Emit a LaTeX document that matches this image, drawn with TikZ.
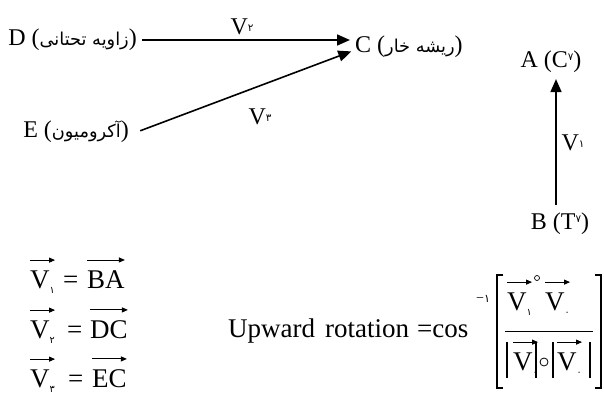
\documentclass[tikz,border=0pt]{standalone}
\usepackage{fontspec}
\setmainfont{Liberation Serif}
\newfontfamily\fa[Script=Arabic,Scale=0.74]{DejaVu Sans}
\newfontfamily\fd[Script=Arabic,Scale=0.8]{DejaVu Sans}
\TeXXeTstate=1
\usetikzlibrary{arrows.meta}
\newcommand\psub[1]{\raisebox{-0.2em}{\fd\fontsize{12}{12}\selectfont #1}}
\newcommand\pmid[1]{\raisebox{0.12em}{\fd\fontsize{13}{13}\selectfont #1}}
\newcommand\psup[1]{\raisebox{0.3em}{\fd\fontsize{13}{13}\selectfont #1}}
\newcommand\fatext[1]{{\fa\beginR #1\endR}}
\begin{document}
\begin{tikzpicture}[x=1pt,y=-1pt,
  lbl/.style={inner sep=0pt, font=\fontsize{24}{28}\selectfont},
  frm/.style={inner sep=0pt, font=\fontsize{27}{30}\selectfont},
  arr/.style={line width=1.6pt, -{Triangle[length=13pt,width=11pt]}},
  varr/.style={line width=0.9pt, -{Triangle[length=6pt,width=5pt]}},
  brk/.style={line width=1.1pt},
  ring/.style={circle, draw, inner sep=0pt},
]
\path[use as bounding box, fill=white] (0,0) rectangle (604,395);

% top-left group
\node[lbl, anchor=east] (D) at (137,40) {D (\fatext{زاویه تحتانی})};
\node[lbl, anchor=west] (C) at (355,47) {C (\fatext{ریشه خار})};
\node[lbl, anchor=east] (E) at (129,132) {E (\fatext{آکرومیون})};
\draw[arr, shorten <=5pt, shorten >=5pt] (D.east) -- (C.west |- D.east);
\draw[arr, shorten <=12pt, shorten >=4pt] ([yshift=-3pt]E.east) -- ([yshift=-3pt]C.west);
\node[lbl] (v2) at (242,27) {V\pmid{۲}};
\node[lbl] (v3) at (260,117) {V\pmid{۳}};

% right group
\node[lbl] (A) at (551,62) {A (C\psup{۷})};
\node[lbl] (B) at (560,224) {B (T\psup{۷})};
\draw[arr, shorten <=8pt, shorten >=6pt] ([xshift=-4pt]B.north) -- ([xshift=-4pt]B.north |- A.south);
\node[lbl] (v1) at (573,143) {V\pmid{۱}};

% bottom-left definitions
\node[frm, anchor=base west] (r1v) at (30,288) {V\psub{۱}};
\node[frm, anchor=base west] (r1e) at (63,288) {=};
\node[frm, anchor=base west] (r1r) at (87,288) {BA};
\node[frm, anchor=base west] (r2v) at (30,338) {V\psub{۲}};
\node[frm, anchor=base west] (r2e) at (67,338) {=};
\node[frm, anchor=base west] (r2r) at (90,338) {DC};
\node[frm, anchor=base west] (r3v) at (30,387) {V\psub{۳}};
\node[frm, anchor=base west] (r3e) at (68,387) {=};
\node[frm, anchor=base west] (r3r) at (92,387) {EC};
\foreach \n in {r1v,r1r,r2v,r2r,r3v,r3r}
  \draw[varr] ([yshift=10pt]\n.north west) -- ([yshift=10pt]\n.north east);

% formula
\node[frm, anchor=base west] (up) at (228,337) {Upward\hspace{10pt}rotation};
\node[frm, anchor=base west] (eqc) at (417,337) {=cos};
\node[inner sep=0pt, font=\fontsize{14}{14}\selectfont, anchor=base west] (inv) at (476,302) {−{\fd ۱}};
\draw[brk] (503,275) -- (497,275) -- (497,388) -- (503,388);
\draw[brk] (595,275) -- (601,275) -- (601,388) -- (595,388);
\node[frm, anchor=base west] (n1) at (507,310) {V\psub{۱}};
\node[ring, line width=0.7pt, minimum size=5pt] (o1) at (537,278) {};
\node[frm, anchor=base west] (n2) at (545,310) {V\psub{۰}};
\draw[line width=1pt] (505,331) -- (593,331);
\node[frm, anchor=base west] (d1) at (513,370) {V\psub{۰}};
\node[ring, line width=0.8pt, minimum size=8pt] (o2) at (544,362) {};
\node[frm, anchor=base west] (d2) at (557,370) {V\psub{۰}};
\foreach \n in {n1,n2,d1,d2}
  \draw[varr] ([yshift=10pt]\n.north west) -- ([yshift=10pt]\n.north east);
\draw[brk] (507,342) -- (507,378);
\draw[brk] (536,342) -- (536,378);
\draw[brk] (553,342) -- (553,378);
\draw[brk] (590,342) -- (590,378);
\end{tikzpicture}
\end{document}
